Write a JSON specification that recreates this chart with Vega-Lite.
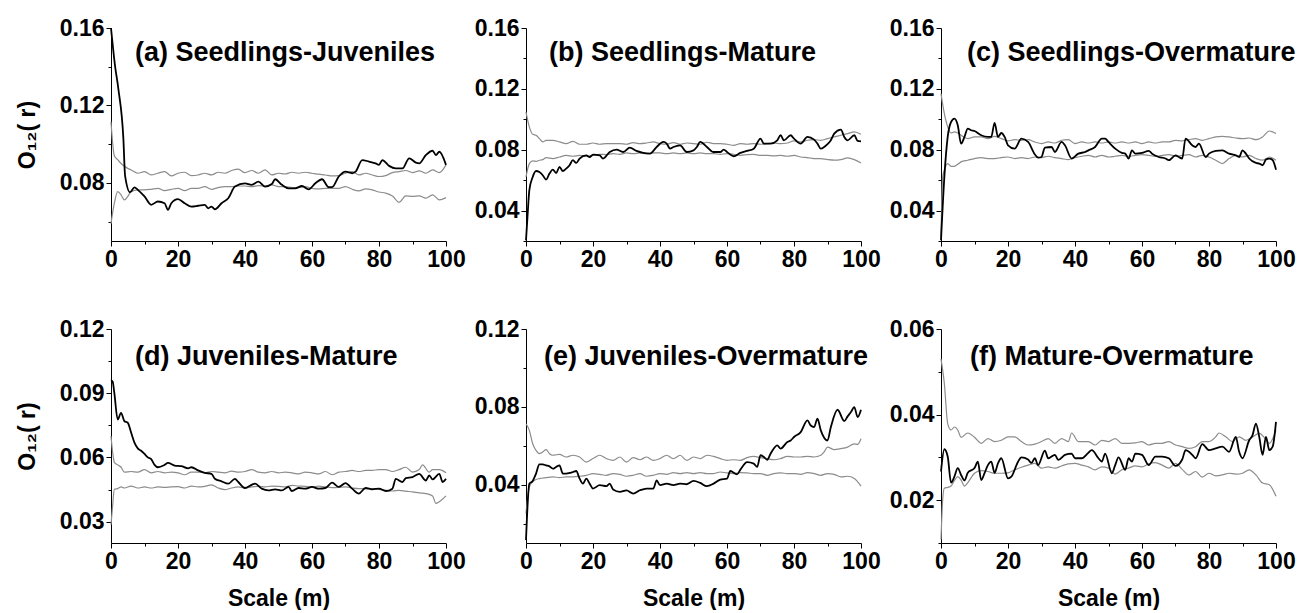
{
"$schema":"https://vega.github.io/schema/vega-lite/v6.json",
"background":"white",
"padding":{"left":16,"top":17,"right":0,"bottom":0},
"config":{"view":{"stroke":null},
"axis":{"labelFont":"Liberation Sans","labelFontWeight":"bold","labelFontSize":23,"labelColor":"black","domainColor":"black","domainWidth":1,"tickColor":"black","tickWidth":1,"grid":false,"titleFont":"Liberation Sans","titleFontWeight":"bold","titleFontSize":23,"titleColor":"black","labelPadding":2,"labelOverlap":false,"labelFlush":false},
"title":{"font":"Liberation Sans","fontWeight":"bold","fontSize":27,"color":"black"}},
"datasets":{"d":[
{"p":"a","s":"o","x":0,"y":0.16},{"p":"a","s":"o","x":1.2,"y":0.1405},{"p":"a","s":"o","x":2.2,"y":0.1285},{"p":"a","s":"o","x":3.7,"y":0.1027},{"p":"a","s":"o","x":4.2,"y":0.0838},{"p":"a","s":"o","x":5.7,"y":0.0752},{"p":"a","s":"o","x":7,"y":0.0777},{"p":"a","s":"o","x":8,"y":0.0764},{"p":"a","s":"o","x":10,"y":0.073},{"p":"a","s":"o","x":12,"y":0.0687},{"p":"a","s":"o","x":14,"y":0.0704},{"p":"a","s":"o","x":16,"y":0.0695},{"p":"a","s":"o","x":17,"y":0.0661},{"p":"a","s":"o","x":18,"y":0.0695},{"p":"a","s":"o","x":20,"y":0.0716},{"p":"a","s":"o","x":22,"y":0.0695},{"p":"a","s":"o","x":24,"y":0.0678},{"p":"a","s":"o","x":26,"y":0.0682},{"p":"a","s":"o","x":28,"y":0.0687},{"p":"a","s":"o","x":29,"y":0.0669},{"p":"a","s":"o","x":30,"y":0.0678},{"p":"a","s":"o","x":31,"y":0.0664},{"p":"a","s":"o","x":33,"y":0.0695},{"p":"a","s":"o","x":35,"y":0.0721},{"p":"a","s":"o","x":37,"y":0.0781},{"p":"a","s":"o","x":40,"y":0.0798},{"p":"a","s":"o","x":42,"y":0.079},{"p":"a","s":"o","x":44,"y":0.0807},{"p":"a","s":"o","x":46,"y":0.0781},{"p":"a","s":"o","x":48,"y":0.0794},{"p":"a","s":"o","x":49,"y":0.0819},{"p":"a","s":"o","x":51,"y":0.079},{"p":"a","s":"o","x":53,"y":0.0772},{"p":"a","s":"o","x":55,"y":0.0772},{"p":"a","s":"o","x":57,"y":0.0784},{"p":"a","s":"o","x":59,"y":0.0767},{"p":"a","s":"o","x":61,"y":0.0798},{"p":"a","s":"o","x":63,"y":0.0819},{"p":"a","s":"o","x":65,"y":0.0778},{"p":"a","s":"o","x":66,"y":0.0778},{"p":"a","s":"o","x":68,"y":0.0833},{"p":"a","s":"o","x":70,"y":0.0858},{"p":"a","s":"o","x":72,"y":0.085},{"p":"a","s":"o","x":73,"y":0.0858},{"p":"a","s":"o","x":75,"y":0.0918},{"p":"a","s":"o","x":77,"y":0.091},{"p":"a","s":"o","x":79,"y":0.0901},{"p":"a","s":"o","x":80,"y":0.0893},{"p":"a","s":"o","x":81,"y":0.0918},{"p":"a","s":"o","x":83,"y":0.0888},{"p":"a","s":"o","x":85,"y":0.0875},{"p":"a","s":"o","x":87,"y":0.0875},{"p":"a","s":"o","x":89,"y":0.0927},{"p":"a","s":"o","x":91,"y":0.0905},{"p":"a","s":"o","x":92,"y":0.0901},{"p":"a","s":"o","x":94,"y":0.0944},{"p":"a","s":"o","x":96,"y":0.0966},{"p":"a","s":"o","x":97,"y":0.0944},{"p":"a","s":"o","x":98,"y":0.0961},{"p":"a","s":"o","x":100,"y":0.0893},
{"p":"a","s":"u","x":0,"y":0.1115},{"p":"a","s":"u","x":1,"y":0.094},{"p":"a","s":"u","x":2,"y":0.092},{"p":"a","s":"u","x":3,"y":0.09},{"p":"a","s":"u","x":5,"y":0.0875},{"p":"a","s":"u","x":6,"y":0.0867},{"p":"a","s":"u","x":8,"y":0.085},{"p":"a","s":"u","x":10,"y":0.0858},{"p":"a","s":"u","x":12,"y":0.0841},{"p":"a","s":"u","x":14,"y":0.085},{"p":"a","s":"u","x":16,"y":0.0858},{"p":"a","s":"u","x":18,"y":0.0836},{"p":"a","s":"u","x":20,"y":0.085},{"p":"a","s":"u","x":22,"y":0.0855},{"p":"a","s":"u","x":24,"y":0.0838},{"p":"a","s":"u","x":26,"y":0.0841},{"p":"a","s":"u","x":28,"y":0.085},{"p":"a","s":"u","x":30,"y":0.0841},{"p":"a","s":"u","x":32,"y":0.0855},{"p":"a","s":"u","x":34,"y":0.085},{"p":"a","s":"u","x":36,"y":0.0864},{"p":"a","s":"u","x":38,"y":0.0871},{"p":"a","s":"u","x":40,"y":0.0853},{"p":"a","s":"u","x":42,"y":0.0864},{"p":"a","s":"u","x":44,"y":0.085},{"p":"a","s":"u","x":46,"y":0.0867},{"p":"a","s":"u","x":48,"y":0.0841},{"p":"a","s":"u","x":50,"y":0.085},{"p":"a","s":"u","x":52,"y":0.0846},{"p":"a","s":"u","x":54,"y":0.0855},{"p":"a","s":"u","x":56,"y":0.085},{"p":"a","s":"u","x":58,"y":0.0855},{"p":"a","s":"u","x":60,"y":0.085},{"p":"a","s":"u","x":62,"y":0.0845},{"p":"a","s":"u","x":64,"y":0.0841},{"p":"a","s":"u","x":66,"y":0.0836},{"p":"a","s":"u","x":68,"y":0.0838},{"p":"a","s":"u","x":70,"y":0.085},{"p":"a","s":"u","x":72,"y":0.0858},{"p":"a","s":"u","x":74,"y":0.0841},{"p":"a","s":"u","x":76,"y":0.085},{"p":"a","s":"u","x":78,"y":0.0841},{"p":"a","s":"u","x":80,"y":0.0833},{"p":"a","s":"u","x":82,"y":0.0838},{"p":"a","s":"u","x":84,"y":0.0853},{"p":"a","s":"u","x":86,"y":0.0858},{"p":"a","s":"u","x":88,"y":0.0864},{"p":"a","s":"u","x":90,"y":0.0853},{"p":"a","s":"u","x":92,"y":0.0862},{"p":"a","s":"u","x":94,"y":0.085},{"p":"a","s":"u","x":96,"y":0.0867},{"p":"a","s":"u","x":98,"y":0.0853},{"p":"a","s":"u","x":100,"y":0.0893},
{"p":"a","s":"l","x":0,"y":0.059},{"p":"a","s":"l","x":1,"y":0.0695},{"p":"a","s":"l","x":2,"y":0.0755},{"p":"a","s":"l","x":3,"y":0.0738},{"p":"a","s":"l","x":4,"y":0.0712},{"p":"a","s":"l","x":5,"y":0.073},{"p":"a","s":"l","x":6,"y":0.0755},{"p":"a","s":"l","x":8,"y":0.0764},{"p":"a","s":"l","x":10,"y":0.0764},{"p":"a","s":"l","x":12,"y":0.0767},{"p":"a","s":"l","x":14,"y":0.0772},{"p":"a","s":"l","x":16,"y":0.076},{"p":"a","s":"l","x":18,"y":0.0767},{"p":"a","s":"l","x":20,"y":0.0772},{"p":"a","s":"l","x":22,"y":0.076},{"p":"a","s":"l","x":24,"y":0.0772},{"p":"a","s":"l","x":26,"y":0.0772},{"p":"a","s":"l","x":28,"y":0.0781},{"p":"a","s":"l","x":30,"y":0.0767},{"p":"a","s":"l","x":32,"y":0.0776},{"p":"a","s":"l","x":34,"y":0.0781},{"p":"a","s":"l","x":36,"y":0.0781},{"p":"a","s":"l","x":38,"y":0.0784},{"p":"a","s":"l","x":40,"y":0.0784},{"p":"a","s":"l","x":42,"y":0.0781},{"p":"a","s":"l","x":44,"y":0.0786},{"p":"a","s":"l","x":46,"y":0.0784},{"p":"a","s":"l","x":48,"y":0.079},{"p":"a","s":"l","x":50,"y":0.0781},{"p":"a","s":"l","x":52,"y":0.0781},{"p":"a","s":"l","x":54,"y":0.0776},{"p":"a","s":"l","x":56,"y":0.0776},{"p":"a","s":"l","x":58,"y":0.0781},{"p":"a","s":"l","x":60,"y":0.0772},{"p":"a","s":"l","x":62,"y":0.0769},{"p":"a","s":"l","x":64,"y":0.0772},{"p":"a","s":"l","x":66,"y":0.0772},{"p":"a","s":"l","x":68,"y":0.0772},{"p":"a","s":"l","x":70,"y":0.0781},{"p":"a","s":"l","x":72,"y":0.0767},{"p":"a","s":"l","x":74,"y":0.0759},{"p":"a","s":"l","x":76,"y":0.0769},{"p":"a","s":"l","x":78,"y":0.0764},{"p":"a","s":"l","x":80,"y":0.0753},{"p":"a","s":"l","x":82,"y":0.0747},{"p":"a","s":"l","x":84,"y":0.0733},{"p":"a","s":"l","x":86,"y":0.07},{"p":"a","s":"l","x":88,"y":0.0733},{"p":"a","s":"l","x":90,"y":0.073},{"p":"a","s":"l","x":92,"y":0.0733},{"p":"a","s":"l","x":94,"y":0.0721},{"p":"a","s":"l","x":96,"y":0.0738},{"p":"a","s":"l","x":98,"y":0.0712},{"p":"a","s":"l","x":100,"y":0.0724},
{"p":"b","s":"o","x":0,"y":0.0205},{"p":"b","s":"o","x":0.5,"y":0.038},{"p":"b","s":"o","x":1,"y":0.0534},{"p":"b","s":"o","x":2,"y":0.0621},{"p":"b","s":"o","x":3,"y":0.066},{"p":"b","s":"o","x":4,"y":0.0654},{"p":"b","s":"o","x":5,"y":0.0632},{"p":"b","s":"o","x":6,"y":0.0604},{"p":"b","s":"o","x":7,"y":0.0643},{"p":"b","s":"o","x":8,"y":0.0669},{"p":"b","s":"o","x":9,"y":0.0647},{"p":"b","s":"o","x":10,"y":0.0687},{"p":"b","s":"o","x":11,"y":0.066},{"p":"b","s":"o","x":12,"y":0.0676},{"p":"b","s":"o","x":13,"y":0.0698},{"p":"b","s":"o","x":14,"y":0.0731},{"p":"b","s":"o","x":15,"y":0.0713},{"p":"b","s":"o","x":16,"y":0.0742},{"p":"b","s":"o","x":18,"y":0.0763},{"p":"b","s":"o","x":19,"y":0.0752},{"p":"b","s":"o","x":20,"y":0.0768},{"p":"b","s":"o","x":22,"y":0.0763},{"p":"b","s":"o","x":23,"y":0.0742},{"p":"b","s":"o","x":25,"y":0.0785},{"p":"b","s":"o","x":27,"y":0.0801},{"p":"b","s":"o","x":29,"y":0.0785},{"p":"b","s":"o","x":31,"y":0.0814},{"p":"b","s":"o","x":33,"y":0.0792},{"p":"b","s":"o","x":35,"y":0.0779},{"p":"b","s":"o","x":37,"y":0.0774},{"p":"b","s":"o","x":39,"y":0.0818},{"p":"b","s":"o","x":41,"y":0.0851},{"p":"b","s":"o","x":42,"y":0.084},{"p":"b","s":"o","x":43,"y":0.0807},{"p":"b","s":"o","x":44,"y":0.0818},{"p":"b","s":"o","x":46,"y":0.0829},{"p":"b","s":"o","x":48,"y":0.0785},{"p":"b","s":"o","x":50,"y":0.0796},{"p":"b","s":"o","x":51,"y":0.0818},{"p":"b","s":"o","x":52,"y":0.0851},{"p":"b","s":"o","x":54,"y":0.0818},{"p":"b","s":"o","x":56,"y":0.0785},{"p":"b","s":"o","x":58,"y":0.0785},{"p":"b","s":"o","x":59,"y":0.0801},{"p":"b","s":"o","x":60,"y":0.0785},{"p":"b","s":"o","x":62,"y":0.0757},{"p":"b","s":"o","x":64,"y":0.0779},{"p":"b","s":"o","x":66,"y":0.0792},{"p":"b","s":"o","x":68,"y":0.0807},{"p":"b","s":"o","x":70,"y":0.0873},{"p":"b","s":"o","x":71,"y":0.084},{"p":"b","s":"o","x":73,"y":0.084},{"p":"b","s":"o","x":75,"y":0.0862},{"p":"b","s":"o","x":76,"y":0.0895},{"p":"b","s":"o","x":77,"y":0.0862},{"p":"b","s":"o","x":79,"y":0.0895},{"p":"b","s":"o","x":80,"y":0.0873},{"p":"b","s":"o","x":82,"y":0.084},{"p":"b","s":"o","x":84,"y":0.0884},{"p":"b","s":"o","x":86,"y":0.0866},{"p":"b","s":"o","x":87,"y":0.084},{"p":"b","s":"o","x":88,"y":0.0807},{"p":"b","s":"o","x":90,"y":0.0836},{"p":"b","s":"o","x":91,"y":0.0862},{"p":"b","s":"o","x":92,"y":0.0906},{"p":"b","s":"o","x":94,"y":0.0932},{"p":"b","s":"o","x":95,"y":0.0884},{"p":"b","s":"o","x":96,"y":0.0862},{"p":"b","s":"o","x":98,"y":0.0895},{"p":"b","s":"o","x":99,"y":0.0858},{"p":"b","s":"o","x":100,"y":0.0855},
{"p":"b","s":"u","x":0,"y":0.1048},{"p":"b","s":"u","x":1,"y":0.095},{"p":"b","s":"u","x":2,"y":0.0901},{"p":"b","s":"u","x":3,"y":0.0895},{"p":"b","s":"u","x":4,"y":0.0873},{"p":"b","s":"u","x":5,"y":0.0851},{"p":"b","s":"u","x":6,"y":0.0862},{"p":"b","s":"u","x":8,"y":0.0862},{"p":"b","s":"u","x":10,"y":0.0851},{"p":"b","s":"u","x":12,"y":0.084},{"p":"b","s":"u","x":14,"y":0.0855},{"p":"b","s":"u","x":16,"y":0.0836},{"p":"b","s":"u","x":18,"y":0.0836},{"p":"b","s":"u","x":20,"y":0.0844},{"p":"b","s":"u","x":22,"y":0.0836},{"p":"b","s":"u","x":24,"y":0.084},{"p":"b","s":"u","x":26,"y":0.084},{"p":"b","s":"u","x":28,"y":0.084},{"p":"b","s":"u","x":30,"y":0.0836},{"p":"b","s":"u","x":32,"y":0.0847},{"p":"b","s":"u","x":34,"y":0.084},{"p":"b","s":"u","x":36,"y":0.0844},{"p":"b","s":"u","x":38,"y":0.0851},{"p":"b","s":"u","x":40,"y":0.084},{"p":"b","s":"u","x":42,"y":0.0836},{"p":"b","s":"u","x":44,"y":0.0847},{"p":"b","s":"u","x":46,"y":0.0836},{"p":"b","s":"u","x":48,"y":0.0844},{"p":"b","s":"u","x":50,"y":0.084},{"p":"b","s":"u","x":52,"y":0.0836},{"p":"b","s":"u","x":54,"y":0.0849},{"p":"b","s":"u","x":56,"y":0.084},{"p":"b","s":"u","x":58,"y":0.084},{"p":"b","s":"u","x":60,"y":0.0836},{"p":"b","s":"u","x":62,"y":0.0829},{"p":"b","s":"u","x":64,"y":0.084},{"p":"b","s":"u","x":66,"y":0.0836},{"p":"b","s":"u","x":68,"y":0.084},{"p":"b","s":"u","x":70,"y":0.0836},{"p":"b","s":"u","x":72,"y":0.084},{"p":"b","s":"u","x":74,"y":0.0844},{"p":"b","s":"u","x":76,"y":0.084},{"p":"b","s":"u","x":78,"y":0.0844},{"p":"b","s":"u","x":80,"y":0.0858},{"p":"b","s":"u","x":82,"y":0.0851},{"p":"b","s":"u","x":84,"y":0.0862},{"p":"b","s":"u","x":86,"y":0.0866},{"p":"b","s":"u","x":88,"y":0.0862},{"p":"b","s":"u","x":90,"y":0.0873},{"p":"b","s":"u","x":92,"y":0.0884},{"p":"b","s":"u","x":94,"y":0.0895},{"p":"b","s":"u","x":96,"y":0.0906},{"p":"b","s":"u","x":98,"y":0.0917},{"p":"b","s":"u","x":100,"y":0.0901},
{"p":"b","s":"l","x":0,"y":0.0621},{"p":"b","s":"l","x":1,"y":0.0709},{"p":"b","s":"l","x":2,"y":0.0726},{"p":"b","s":"l","x":3,"y":0.0724},{"p":"b","s":"l","x":4,"y":0.0731},{"p":"b","s":"l","x":5,"y":0.0735},{"p":"b","s":"l","x":6,"y":0.0748},{"p":"b","s":"l","x":8,"y":0.0742},{"p":"b","s":"l","x":10,"y":0.0752},{"p":"b","s":"l","x":12,"y":0.0763},{"p":"b","s":"l","x":14,"y":0.0757},{"p":"b","s":"l","x":16,"y":0.0763},{"p":"b","s":"l","x":18,"y":0.0757},{"p":"b","s":"l","x":20,"y":0.0763},{"p":"b","s":"l","x":22,"y":0.077},{"p":"b","s":"l","x":24,"y":0.0768},{"p":"b","s":"l","x":26,"y":0.0774},{"p":"b","s":"l","x":28,"y":0.077},{"p":"b","s":"l","x":30,"y":0.0779},{"p":"b","s":"l","x":32,"y":0.0774},{"p":"b","s":"l","x":34,"y":0.0779},{"p":"b","s":"l","x":36,"y":0.0774},{"p":"b","s":"l","x":38,"y":0.0779},{"p":"b","s":"l","x":40,"y":0.0779},{"p":"b","s":"l","x":42,"y":0.0774},{"p":"b","s":"l","x":44,"y":0.0779},{"p":"b","s":"l","x":46,"y":0.0774},{"p":"b","s":"l","x":48,"y":0.0779},{"p":"b","s":"l","x":50,"y":0.0774},{"p":"b","s":"l","x":52,"y":0.0779},{"p":"b","s":"l","x":54,"y":0.0774},{"p":"b","s":"l","x":56,"y":0.0774},{"p":"b","s":"l","x":58,"y":0.077},{"p":"b","s":"l","x":60,"y":0.0774},{"p":"b","s":"l","x":62,"y":0.077},{"p":"b","s":"l","x":64,"y":0.0763},{"p":"b","s":"l","x":66,"y":0.0768},{"p":"b","s":"l","x":68,"y":0.077},{"p":"b","s":"l","x":70,"y":0.0763},{"p":"b","s":"l","x":72,"y":0.0763},{"p":"b","s":"l","x":74,"y":0.0759},{"p":"b","s":"l","x":76,"y":0.0763},{"p":"b","s":"l","x":78,"y":0.0757},{"p":"b","s":"l","x":80,"y":0.0763},{"p":"b","s":"l","x":82,"y":0.0752},{"p":"b","s":"l","x":84,"y":0.0748},{"p":"b","s":"l","x":86,"y":0.0742},{"p":"b","s":"l","x":88,"y":0.0742},{"p":"b","s":"l","x":90,"y":0.0735},{"p":"b","s":"l","x":92,"y":0.0731},{"p":"b","s":"l","x":94,"y":0.0735},{"p":"b","s":"l","x":96,"y":0.0746},{"p":"b","s":"l","x":98,"y":0.0735},{"p":"b","s":"l","x":100,"y":0.0713},
{"p":"c","s":"o","x":0,"y":0.0205},{"p":"c","s":"o","x":1,"y":0.0621},{"p":"c","s":"o","x":2,"y":0.0884},{"p":"c","s":"o","x":3,"y":0.0982},{"p":"c","s":"o","x":4,"y":0.1004},{"p":"c","s":"o","x":5,"y":0.0961},{"p":"c","s":"o","x":6,"y":0.084},{"p":"c","s":"o","x":7,"y":0.0884},{"p":"c","s":"o","x":8,"y":0.0939},{"p":"c","s":"o","x":9,"y":0.0928},{"p":"c","s":"o","x":10,"y":0.0923},{"p":"c","s":"o","x":12,"y":0.0895},{"p":"c","s":"o","x":14,"y":0.0884},{"p":"c","s":"o","x":15,"y":0.0884},{"p":"c","s":"o","x":16,"y":0.0976},{"p":"c","s":"o","x":17,"y":0.0884},{"p":"c","s":"o","x":18,"y":0.091},{"p":"c","s":"o","x":19,"y":0.0884},{"p":"c","s":"o","x":20,"y":0.0829},{"p":"c","s":"o","x":22,"y":0.0807},{"p":"c","s":"o","x":24,"y":0.0873},{"p":"c","s":"o","x":26,"y":0.0851},{"p":"c","s":"o","x":28,"y":0.077},{"p":"c","s":"o","x":29,"y":0.0748},{"p":"c","s":"o","x":30,"y":0.0752},{"p":"c","s":"o","x":31,"y":0.0814},{"p":"c","s":"o","x":33,"y":0.0818},{"p":"c","s":"o","x":34,"y":0.0785},{"p":"c","s":"o","x":36,"y":0.0851},{"p":"c","s":"o","x":37,"y":0.0829},{"p":"c","s":"o","x":39,"y":0.0742},{"p":"c","s":"o","x":41,"y":0.0774},{"p":"c","s":"o","x":43,"y":0.0785},{"p":"c","s":"o","x":44,"y":0.0796},{"p":"c","s":"o","x":46,"y":0.0818},{"p":"c","s":"o","x":48,"y":0.0873},{"p":"c","s":"o","x":49,"y":0.0873},{"p":"c","s":"o","x":50,"y":0.0851},{"p":"c","s":"o","x":52,"y":0.0807},{"p":"c","s":"o","x":54,"y":0.0779},{"p":"c","s":"o","x":55,"y":0.0774},{"p":"c","s":"o","x":56,"y":0.0742},{"p":"c","s":"o","x":57,"y":0.0796},{"p":"c","s":"o","x":58,"y":0.0774},{"p":"c","s":"o","x":60,"y":0.0779},{"p":"c","s":"o","x":62,"y":0.0792},{"p":"c","s":"o","x":63,"y":0.0774},{"p":"c","s":"o","x":65,"y":0.0752},{"p":"c","s":"o","x":67,"y":0.0742},{"p":"c","s":"o","x":68,"y":0.0731},{"p":"c","s":"o","x":70,"y":0.0763},{"p":"c","s":"o","x":71,"y":0.0752},{"p":"c","s":"o","x":72,"y":0.0742},{"p":"c","s":"o","x":73,"y":0.0873},{"p":"c","s":"o","x":75,"y":0.0829},{"p":"c","s":"o","x":76,"y":0.0818},{"p":"c","s":"o","x":77,"y":0.084},{"p":"c","s":"o","x":79,"y":0.0752},{"p":"c","s":"o","x":80,"y":0.0774},{"p":"c","s":"o","x":82,"y":0.0792},{"p":"c","s":"o","x":84,"y":0.0796},{"p":"c","s":"o","x":86,"y":0.0774},{"p":"c","s":"o","x":88,"y":0.0763},{"p":"c","s":"o","x":89,"y":0.0752},{"p":"c","s":"o","x":90,"y":0.0796},{"p":"c","s":"o","x":91,"y":0.0774},{"p":"c","s":"o","x":92,"y":0.0742},{"p":"c","s":"o","x":94,"y":0.0713},{"p":"c","s":"o","x":95,"y":0.0709},{"p":"c","s":"o","x":96,"y":0.0698},{"p":"c","s":"o","x":97,"y":0.0735},{"p":"c","s":"o","x":98,"y":0.0742},{"p":"c","s":"o","x":99,"y":0.0731},{"p":"c","s":"o","x":100,"y":0.0669},
{"p":"c","s":"u","x":0,"y":0.1169},{"p":"c","s":"u","x":1,"y":0.1037},{"p":"c","s":"u","x":2,"y":0.095},{"p":"c","s":"u","x":3,"y":0.091},{"p":"c","s":"u","x":4,"y":0.0917},{"p":"c","s":"u","x":5,"y":0.091},{"p":"c","s":"u","x":6,"y":0.0895},{"p":"c","s":"u","x":8,"y":0.0873},{"p":"c","s":"u","x":10,"y":0.0884},{"p":"c","s":"u","x":12,"y":0.0884},{"p":"c","s":"u","x":14,"y":0.0873},{"p":"c","s":"u","x":16,"y":0.0888},{"p":"c","s":"u","x":18,"y":0.0873},{"p":"c","s":"u","x":20,"y":0.0858},{"p":"c","s":"u","x":22,"y":0.0866},{"p":"c","s":"u","x":24,"y":0.0862},{"p":"c","s":"u","x":26,"y":0.0866},{"p":"c","s":"u","x":28,"y":0.0851},{"p":"c","s":"u","x":30,"y":0.084},{"p":"c","s":"u","x":32,"y":0.0851},{"p":"c","s":"u","x":34,"y":0.0844},{"p":"c","s":"u","x":36,"y":0.0862},{"p":"c","s":"u","x":38,"y":0.0866},{"p":"c","s":"u","x":40,"y":0.084},{"p":"c","s":"u","x":42,"y":0.0851},{"p":"c","s":"u","x":44,"y":0.0844},{"p":"c","s":"u","x":46,"y":0.0851},{"p":"c","s":"u","x":48,"y":0.0844},{"p":"c","s":"u","x":50,"y":0.0851},{"p":"c","s":"u","x":52,"y":0.0844},{"p":"c","s":"u","x":54,"y":0.0851},{"p":"c","s":"u","x":56,"y":0.0844},{"p":"c","s":"u","x":58,"y":0.0851},{"p":"c","s":"u","x":60,"y":0.084},{"p":"c","s":"u","x":62,"y":0.0851},{"p":"c","s":"u","x":64,"y":0.0844},{"p":"c","s":"u","x":66,"y":0.0851},{"p":"c","s":"u","x":68,"y":0.0851},{"p":"c","s":"u","x":70,"y":0.0862},{"p":"c","s":"u","x":72,"y":0.0858},{"p":"c","s":"u","x":74,"y":0.0866},{"p":"c","s":"u","x":76,"y":0.0873},{"p":"c","s":"u","x":78,"y":0.0862},{"p":"c","s":"u","x":80,"y":0.0873},{"p":"c","s":"u","x":82,"y":0.0884},{"p":"c","s":"u","x":84,"y":0.0888},{"p":"c","s":"u","x":86,"y":0.0884},{"p":"c","s":"u","x":88,"y":0.0877},{"p":"c","s":"u","x":90,"y":0.0873},{"p":"c","s":"u","x":92,"y":0.0877},{"p":"c","s":"u","x":94,"y":0.0866},{"p":"c","s":"u","x":96,"y":0.0884},{"p":"c","s":"u","x":98,"y":0.0923},{"p":"c","s":"u","x":100,"y":0.0906},
{"p":"c","s":"l","x":0,"y":0.0227},{"p":"c","s":"l","x":0.5,"y":0.0621},{"p":"c","s":"l","x":1,"y":0.0665},{"p":"c","s":"l","x":2,"y":0.0709},{"p":"c","s":"l","x":3,"y":0.0691},{"p":"c","s":"l","x":4,"y":0.0691},{"p":"c","s":"l","x":5,"y":0.0704},{"p":"c","s":"l","x":6,"y":0.072},{"p":"c","s":"l","x":8,"y":0.0731},{"p":"c","s":"l","x":10,"y":0.0742},{"p":"c","s":"l","x":12,"y":0.0748},{"p":"c","s":"l","x":14,"y":0.0742},{"p":"c","s":"l","x":16,"y":0.0742},{"p":"c","s":"l","x":18,"y":0.0748},{"p":"c","s":"l","x":20,"y":0.0752},{"p":"c","s":"l","x":22,"y":0.0742},{"p":"c","s":"l","x":24,"y":0.0748},{"p":"c","s":"l","x":26,"y":0.0742},{"p":"c","s":"l","x":28,"y":0.0752},{"p":"c","s":"l","x":30,"y":0.0748},{"p":"c","s":"l","x":32,"y":0.0757},{"p":"c","s":"l","x":34,"y":0.0748},{"p":"c","s":"l","x":36,"y":0.0742},{"p":"c","s":"l","x":38,"y":0.0735},{"p":"c","s":"l","x":40,"y":0.0748},{"p":"c","s":"l","x":42,"y":0.0757},{"p":"c","s":"l","x":44,"y":0.0763},{"p":"c","s":"l","x":46,"y":0.0752},{"p":"c","s":"l","x":48,"y":0.0763},{"p":"c","s":"l","x":50,"y":0.0752},{"p":"c","s":"l","x":52,"y":0.0757},{"p":"c","s":"l","x":54,"y":0.0763},{"p":"c","s":"l","x":56,"y":0.0757},{"p":"c","s":"l","x":58,"y":0.0763},{"p":"c","s":"l","x":60,"y":0.0768},{"p":"c","s":"l","x":62,"y":0.0763},{"p":"c","s":"l","x":64,"y":0.0757},{"p":"c","s":"l","x":66,"y":0.0763},{"p":"c","s":"l","x":68,"y":0.0768},{"p":"c","s":"l","x":70,"y":0.0757},{"p":"c","s":"l","x":72,"y":0.0763},{"p":"c","s":"l","x":74,"y":0.0768},{"p":"c","s":"l","x":76,"y":0.0752},{"p":"c","s":"l","x":78,"y":0.0763},{"p":"c","s":"l","x":80,"y":0.0752},{"p":"c","s":"l","x":82,"y":0.0731},{"p":"c","s":"l","x":84,"y":0.0709},{"p":"c","s":"l","x":86,"y":0.0742},{"p":"c","s":"l","x":88,"y":0.0763},{"p":"c","s":"l","x":90,"y":0.0752},{"p":"c","s":"l","x":92,"y":0.0763},{"p":"c","s":"l","x":94,"y":0.0742},{"p":"c","s":"l","x":96,"y":0.0731},{"p":"c","s":"l","x":98,"y":0.0752},{"p":"c","s":"l","x":100,"y":0.0731},
{"p":"d","s":"o","x":0,"y":0.0962},{"p":"d","s":"o","x":0.5,"y":0.0954},{"p":"d","s":"o","x":1,"y":0.09},{"p":"d","s":"o","x":2,"y":0.0777},{"p":"d","s":"o","x":3,"y":0.0808},{"p":"d","s":"o","x":4,"y":0.0769},{"p":"d","s":"o","x":5,"y":0.0762},{"p":"d","s":"o","x":6,"y":0.0716},{"p":"d","s":"o","x":7,"y":0.0669},{"p":"d","s":"o","x":8,"y":0.0642},{"p":"d","s":"o","x":9,"y":0.0631},{"p":"d","s":"o","x":10,"y":0.0616},{"p":"d","s":"o","x":11,"y":0.06},{"p":"d","s":"o","x":12,"y":0.0592},{"p":"d","s":"o","x":13,"y":0.0565},{"p":"d","s":"o","x":14,"y":0.0554},{"p":"d","s":"o","x":16,"y":0.0565},{"p":"d","s":"o","x":17,"y":0.0574},{"p":"d","s":"o","x":19,"y":0.0562},{"p":"d","s":"o","x":21,"y":0.0559},{"p":"d","s":"o","x":23,"y":0.0549},{"p":"d","s":"o","x":24,"y":0.0554},{"p":"d","s":"o","x":26,"y":0.0539},{"p":"d","s":"o","x":28,"y":0.0528},{"p":"d","s":"o","x":30,"y":0.0523},{"p":"d","s":"o","x":31,"y":0.05},{"p":"d","s":"o","x":33,"y":0.0488},{"p":"d","s":"o","x":35,"y":0.0477},{"p":"d","s":"o","x":37,"y":0.05},{"p":"d","s":"o","x":38,"y":0.0485},{"p":"d","s":"o","x":40,"y":0.0457},{"p":"d","s":"o","x":42,"y":0.0472},{"p":"d","s":"o","x":43,"y":0.0477},{"p":"d","s":"o","x":45,"y":0.0454},{"p":"d","s":"o","x":47,"y":0.0446},{"p":"d","s":"o","x":49,"y":0.0451},{"p":"d","s":"o","x":51,"y":0.0446},{"p":"d","s":"o","x":53,"y":0.0462},{"p":"d","s":"o","x":54,"y":0.0443},{"p":"d","s":"o","x":56,"y":0.0457},{"p":"d","s":"o","x":58,"y":0.0454},{"p":"d","s":"o","x":60,"y":0.0462},{"p":"d","s":"o","x":62,"y":0.0454},{"p":"d","s":"o","x":64,"y":0.0457},{"p":"d","s":"o","x":66,"y":0.0482},{"p":"d","s":"o","x":68,"y":0.0462},{"p":"d","s":"o","x":70,"y":0.048},{"p":"d","s":"o","x":72,"y":0.0454},{"p":"d","s":"o","x":74,"y":0.0431},{"p":"d","s":"o","x":76,"y":0.0457},{"p":"d","s":"o","x":78,"y":0.0451},{"p":"d","s":"o","x":80,"y":0.0454},{"p":"d","s":"o","x":82,"y":0.0443},{"p":"d","s":"o","x":84,"y":0.0454},{"p":"d","s":"o","x":85,"y":0.05},{"p":"d","s":"o","x":87,"y":0.0485},{"p":"d","s":"o","x":88,"y":0.0503},{"p":"d","s":"o","x":90,"y":0.0508},{"p":"d","s":"o","x":92,"y":0.0523},{"p":"d","s":"o","x":94,"y":0.0492},{"p":"d","s":"o","x":95,"y":0.0516},{"p":"d","s":"o","x":96,"y":0.0497},{"p":"d","s":"o","x":98,"y":0.0523},{"p":"d","s":"o","x":99,"y":0.0485},{"p":"d","s":"o","x":100,"y":0.05},
{"p":"d","s":"u","x":0,"y":0.07},{"p":"d","s":"u","x":0.5,"y":0.0623},{"p":"d","s":"u","x":1,"y":0.0577},{"p":"d","s":"u","x":2,"y":0.0565},{"p":"d","s":"u","x":3,"y":0.0554},{"p":"d","s":"u","x":4,"y":0.0531},{"p":"d","s":"u","x":6,"y":0.0534},{"p":"d","s":"u","x":8,"y":0.0531},{"p":"d","s":"u","x":10,"y":0.0543},{"p":"d","s":"u","x":12,"y":0.0528},{"p":"d","s":"u","x":14,"y":0.0534},{"p":"d","s":"u","x":16,"y":0.0528},{"p":"d","s":"u","x":18,"y":0.0531},{"p":"d","s":"u","x":20,"y":0.0528},{"p":"d","s":"u","x":22,"y":0.0519},{"p":"d","s":"u","x":24,"y":0.0531},{"p":"d","s":"u","x":26,"y":0.0531},{"p":"d","s":"u","x":28,"y":0.0528},{"p":"d","s":"u","x":30,"y":0.0534},{"p":"d","s":"u","x":32,"y":0.0531},{"p":"d","s":"u","x":34,"y":0.0528},{"p":"d","s":"u","x":36,"y":0.0536},{"p":"d","s":"u","x":38,"y":0.0531},{"p":"d","s":"u","x":40,"y":0.0534},{"p":"d","s":"u","x":42,"y":0.0543},{"p":"d","s":"u","x":44,"y":0.0531},{"p":"d","s":"u","x":46,"y":0.0528},{"p":"d","s":"u","x":48,"y":0.0534},{"p":"d","s":"u","x":50,"y":0.0528},{"p":"d","s":"u","x":52,"y":0.0531},{"p":"d","s":"u","x":54,"y":0.0528},{"p":"d","s":"u","x":56,"y":0.0523},{"p":"d","s":"u","x":58,"y":0.0531},{"p":"d","s":"u","x":60,"y":0.0528},{"p":"d","s":"u","x":62,"y":0.0523},{"p":"d","s":"u","x":64,"y":0.0534},{"p":"d","s":"u","x":66,"y":0.0519},{"p":"d","s":"u","x":68,"y":0.0531},{"p":"d","s":"u","x":70,"y":0.0534},{"p":"d","s":"u","x":72,"y":0.0539},{"p":"d","s":"u","x":74,"y":0.0534},{"p":"d","s":"u","x":76,"y":0.0539},{"p":"d","s":"u","x":78,"y":0.0539},{"p":"d","s":"u","x":80,"y":0.0543},{"p":"d","s":"u","x":82,"y":0.0543},{"p":"d","s":"u","x":84,"y":0.0534},{"p":"d","s":"u","x":86,"y":0.0543},{"p":"d","s":"u","x":88,"y":0.0554},{"p":"d","s":"u","x":90,"y":0.0531},{"p":"d","s":"u","x":92,"y":0.0543},{"p":"d","s":"u","x":93,"y":0.0565},{"p":"d","s":"u","x":95,"y":0.0531},{"p":"d","s":"u","x":96,"y":0.0543},{"p":"d","s":"u","x":98,"y":0.0543},{"p":"d","s":"u","x":100,"y":0.0528},
{"p":"d","s":"l","x":0,"y":0.0285},{"p":"d","s":"l","x":0.5,"y":0.0377},{"p":"d","s":"l","x":1,"y":0.0451},{"p":"d","s":"l","x":2,"y":0.0454},{"p":"d","s":"l","x":3,"y":0.0462},{"p":"d","s":"l","x":4,"y":0.0457},{"p":"d","s":"l","x":6,"y":0.0466},{"p":"d","s":"l","x":8,"y":0.0457},{"p":"d","s":"l","x":10,"y":0.0462},{"p":"d","s":"l","x":12,"y":0.0457},{"p":"d","s":"l","x":14,"y":0.0462},{"p":"d","s":"l","x":16,"y":0.046},{"p":"d","s":"l","x":18,"y":0.0462},{"p":"d","s":"l","x":20,"y":0.0463},{"p":"d","s":"l","x":22,"y":0.0457},{"p":"d","s":"l","x":24,"y":0.0466},{"p":"d","s":"l","x":26,"y":0.0462},{"p":"d","s":"l","x":28,"y":0.0465},{"p":"d","s":"l","x":30,"y":0.0472},{"p":"d","s":"l","x":32,"y":0.0457},{"p":"d","s":"l","x":34,"y":0.0449},{"p":"d","s":"l","x":36,"y":0.0457},{"p":"d","s":"l","x":38,"y":0.0462},{"p":"d","s":"l","x":40,"y":0.0457},{"p":"d","s":"l","x":42,"y":0.0462},{"p":"d","s":"l","x":44,"y":0.0465},{"p":"d","s":"l","x":46,"y":0.0462},{"p":"d","s":"l","x":48,"y":0.0466},{"p":"d","s":"l","x":50,"y":0.0465},{"p":"d","s":"l","x":52,"y":0.0462},{"p":"d","s":"l","x":54,"y":0.0469},{"p":"d","s":"l","x":56,"y":0.0466},{"p":"d","s":"l","x":58,"y":0.0465},{"p":"d","s":"l","x":60,"y":0.0462},{"p":"d","s":"l","x":62,"y":0.0466},{"p":"d","s":"l","x":64,"y":0.0462},{"p":"d","s":"l","x":66,"y":0.0459},{"p":"d","s":"l","x":68,"y":0.046},{"p":"d","s":"l","x":70,"y":0.0462},{"p":"d","s":"l","x":72,"y":0.0457},{"p":"d","s":"l","x":74,"y":0.0454},{"p":"d","s":"l","x":76,"y":0.0454},{"p":"d","s":"l","x":78,"y":0.0454},{"p":"d","s":"l","x":80,"y":0.0451},{"p":"d","s":"l","x":82,"y":0.0446},{"p":"d","s":"l","x":84,"y":0.0443},{"p":"d","s":"l","x":86,"y":0.0446},{"p":"d","s":"l","x":88,"y":0.0442},{"p":"d","s":"l","x":90,"y":0.0439},{"p":"d","s":"l","x":92,"y":0.0434},{"p":"d","s":"l","x":94,"y":0.0431},{"p":"d","s":"l","x":96,"y":0.042},{"p":"d","s":"l","x":97,"y":0.0385},{"p":"d","s":"l","x":98,"y":0.0393},{"p":"d","s":"l","x":100,"y":0.042},
{"p":"e","s":"o","x":0,"y":0.0115},{"p":"e","s":"o","x":1,"y":0.0405},{"p":"e","s":"o","x":2,"y":0.0419},{"p":"e","s":"o","x":3,"y":0.0457},{"p":"e","s":"o","x":4,"y":0.0504},{"p":"e","s":"o","x":5,"y":0.0504},{"p":"e","s":"o","x":6,"y":0.0499},{"p":"e","s":"o","x":7,"y":0.0494},{"p":"e","s":"o","x":8,"y":0.0482},{"p":"e","s":"o","x":9,"y":0.0491},{"p":"e","s":"o","x":10,"y":0.0499},{"p":"e","s":"o","x":11,"y":0.0457},{"p":"e","s":"o","x":12,"y":0.0457},{"p":"e","s":"o","x":13,"y":0.046},{"p":"e","s":"o","x":14,"y":0.0465},{"p":"e","s":"o","x":15,"y":0.047},{"p":"e","s":"o","x":16,"y":0.0431},{"p":"e","s":"o","x":17,"y":0.0405},{"p":"e","s":"o","x":18,"y":0.0431},{"p":"e","s":"o","x":19,"y":0.0405},{"p":"e","s":"o","x":20,"y":0.038},{"p":"e","s":"o","x":22,"y":0.0397},{"p":"e","s":"o","x":24,"y":0.0392},{"p":"e","s":"o","x":25,"y":0.0405},{"p":"e","s":"o","x":26,"y":0.0375},{"p":"e","s":"o","x":28,"y":0.0363},{"p":"e","s":"o","x":30,"y":0.0371},{"p":"e","s":"o","x":32,"y":0.0354},{"p":"e","s":"o","x":34,"y":0.0371},{"p":"e","s":"o","x":36,"y":0.038},{"p":"e","s":"o","x":38,"y":0.038},{"p":"e","s":"o","x":39,"y":0.0422},{"p":"e","s":"o","x":40,"y":0.0397},{"p":"e","s":"o","x":42,"y":0.0405},{"p":"e","s":"o","x":44,"y":0.0397},{"p":"e","s":"o","x":46,"y":0.0405},{"p":"e","s":"o","x":48,"y":0.0402},{"p":"e","s":"o","x":50,"y":0.0419},{"p":"e","s":"o","x":52,"y":0.0409},{"p":"e","s":"o","x":54,"y":0.0392},{"p":"e","s":"o","x":56,"y":0.0405},{"p":"e","s":"o","x":58,"y":0.0426},{"p":"e","s":"o","x":60,"y":0.0431},{"p":"e","s":"o","x":61,"y":0.047},{"p":"e","s":"o","x":63,"y":0.0453},{"p":"e","s":"o","x":64,"y":0.0477},{"p":"e","s":"o","x":66,"y":0.0516},{"p":"e","s":"o","x":68,"y":0.0508},{"p":"e","s":"o","x":69,"y":0.0491},{"p":"e","s":"o","x":70,"y":0.0551},{"p":"e","s":"o","x":71,"y":0.0542},{"p":"e","s":"o","x":72,"y":0.0528},{"p":"e","s":"o","x":73,"y":0.0559},{"p":"e","s":"o","x":75,"y":0.0602},{"p":"e","s":"o","x":76,"y":0.0585},{"p":"e","s":"o","x":78,"y":0.0619},{"p":"e","s":"o","x":79,"y":0.0627},{"p":"e","s":"o","x":80,"y":0.0645},{"p":"e","s":"o","x":82,"y":0.067},{"p":"e","s":"o","x":84,"y":0.073},{"p":"e","s":"o","x":85,"y":0.0704},{"p":"e","s":"o","x":86,"y":0.0696},{"p":"e","s":"o","x":87,"y":0.0739},{"p":"e","s":"o","x":88,"y":0.0679},{"p":"e","s":"o","x":90,"y":0.0627},{"p":"e","s":"o","x":91,"y":0.0696},{"p":"e","s":"o","x":93,"y":0.0785},{"p":"e","s":"o","x":95,"y":0.0727},{"p":"e","s":"o","x":96,"y":0.0751},{"p":"e","s":"o","x":97,"y":0.0773},{"p":"e","s":"o","x":98,"y":0.0798},{"p":"e","s":"o","x":99,"y":0.0747},{"p":"e","s":"o","x":100,"y":0.0785},
{"p":"e","s":"u","x":0,"y":0.0713},{"p":"e","s":"u","x":1,"y":0.0679},{"p":"e","s":"u","x":2,"y":0.061},{"p":"e","s":"u","x":3,"y":0.0576},{"p":"e","s":"u","x":4,"y":0.0559},{"p":"e","s":"u","x":5,"y":0.0568},{"p":"e","s":"u","x":6,"y":0.058},{"p":"e","s":"u","x":7,"y":0.0559},{"p":"e","s":"u","x":8,"y":0.0551},{"p":"e","s":"u","x":10,"y":0.0556},{"p":"e","s":"u","x":12,"y":0.0542},{"p":"e","s":"u","x":14,"y":0.0551},{"p":"e","s":"u","x":16,"y":0.0542},{"p":"e","s":"u","x":18,"y":0.0516},{"p":"e","s":"u","x":20,"y":0.0534},{"p":"e","s":"u","x":22,"y":0.0551},{"p":"e","s":"u","x":24,"y":0.0534},{"p":"e","s":"u","x":26,"y":0.0525},{"p":"e","s":"u","x":28,"y":0.0542},{"p":"e","s":"u","x":30,"y":0.0516},{"p":"e","s":"u","x":32,"y":0.0539},{"p":"e","s":"u","x":34,"y":0.0528},{"p":"e","s":"u","x":36,"y":0.0542},{"p":"e","s":"u","x":38,"y":0.0525},{"p":"e","s":"u","x":40,"y":0.0534},{"p":"e","s":"u","x":42,"y":0.0551},{"p":"e","s":"u","x":44,"y":0.0534},{"p":"e","s":"u","x":46,"y":0.0551},{"p":"e","s":"u","x":48,"y":0.0525},{"p":"e","s":"u","x":50,"y":0.0542},{"p":"e","s":"u","x":52,"y":0.0534},{"p":"e","s":"u","x":54,"y":0.0551},{"p":"e","s":"u","x":56,"y":0.0545},{"p":"e","s":"u","x":58,"y":0.0534},{"p":"e","s":"u","x":60,"y":0.0525},{"p":"e","s":"u","x":62,"y":0.0528},{"p":"e","s":"u","x":64,"y":0.0525},{"p":"e","s":"u","x":66,"y":0.0539},{"p":"e","s":"u","x":68,"y":0.0545},{"p":"e","s":"u","x":70,"y":0.0539},{"p":"e","s":"u","x":72,"y":0.0534},{"p":"e","s":"u","x":74,"y":0.0528},{"p":"e","s":"u","x":76,"y":0.0534},{"p":"e","s":"u","x":78,"y":0.0545},{"p":"e","s":"u","x":80,"y":0.0542},{"p":"e","s":"u","x":82,"y":0.0542},{"p":"e","s":"u","x":84,"y":0.0545},{"p":"e","s":"u","x":86,"y":0.0542},{"p":"e","s":"u","x":88,"y":0.0551},{"p":"e","s":"u","x":89,"y":0.0568},{"p":"e","s":"u","x":90,"y":0.0593},{"p":"e","s":"u","x":92,"y":0.058},{"p":"e","s":"u","x":94,"y":0.0585},{"p":"e","s":"u","x":96,"y":0.0593},{"p":"e","s":"u","x":98,"y":0.061},{"p":"e","s":"u","x":99,"y":0.0607},{"p":"e","s":"u","x":100,"y":0.0636},
{"p":"e","s":"l","x":0,"y":0.0252},{"p":"e","s":"l","x":1,"y":0.0388},{"p":"e","s":"l","x":2,"y":0.0414},{"p":"e","s":"l","x":3,"y":0.0426},{"p":"e","s":"l","x":4,"y":0.0431},{"p":"e","s":"l","x":6,"y":0.0436},{"p":"e","s":"l","x":8,"y":0.044},{"p":"e","s":"l","x":10,"y":0.0436},{"p":"e","s":"l","x":12,"y":0.044},{"p":"e","s":"l","x":14,"y":0.044},{"p":"e","s":"l","x":16,"y":0.0443},{"p":"e","s":"l","x":18,"y":0.0448},{"p":"e","s":"l","x":20,"y":0.0457},{"p":"e","s":"l","x":22,"y":0.0453},{"p":"e","s":"l","x":24,"y":0.0448},{"p":"e","s":"l","x":26,"y":0.0457},{"p":"e","s":"l","x":28,"y":0.0453},{"p":"e","s":"l","x":30,"y":0.0443},{"p":"e","s":"l","x":32,"y":0.0448},{"p":"e","s":"l","x":34,"y":0.0457},{"p":"e","s":"l","x":36,"y":0.0443},{"p":"e","s":"l","x":38,"y":0.0448},{"p":"e","s":"l","x":40,"y":0.0457},{"p":"e","s":"l","x":42,"y":0.0453},{"p":"e","s":"l","x":44,"y":0.0462},{"p":"e","s":"l","x":46,"y":0.0457},{"p":"e","s":"l","x":48,"y":0.0462},{"p":"e","s":"l","x":50,"y":0.0457},{"p":"e","s":"l","x":52,"y":0.0462},{"p":"e","s":"l","x":54,"y":0.0457},{"p":"e","s":"l","x":56,"y":0.0457},{"p":"e","s":"l","x":58,"y":0.0465},{"p":"e","s":"l","x":60,"y":0.046},{"p":"e","s":"l","x":62,"y":0.0457},{"p":"e","s":"l","x":64,"y":0.0462},{"p":"e","s":"l","x":66,"y":0.046},{"p":"e","s":"l","x":68,"y":0.0457},{"p":"e","s":"l","x":70,"y":0.0457},{"p":"e","s":"l","x":72,"y":0.0448},{"p":"e","s":"l","x":74,"y":0.0457},{"p":"e","s":"l","x":76,"y":0.046},{"p":"e","s":"l","x":78,"y":0.0457},{"p":"e","s":"l","x":80,"y":0.0457},{"p":"e","s":"l","x":82,"y":0.0453},{"p":"e","s":"l","x":84,"y":0.0462},{"p":"e","s":"l","x":86,"y":0.0457},{"p":"e","s":"l","x":88,"y":0.0448},{"p":"e","s":"l","x":90,"y":0.0457},{"p":"e","s":"l","x":92,"y":0.0453},{"p":"e","s":"l","x":94,"y":0.044},{"p":"e","s":"l","x":96,"y":0.0443},{"p":"e","s":"l","x":98,"y":0.0431},{"p":"e","s":"l","x":100,"y":0.0392},
{"p":"f","s":"o","x":0,"y":0.0267},{"p":"f","s":"o","x":1,"y":0.0319},{"p":"f","s":"o","x":2,"y":0.0302},{"p":"f","s":"o","x":3,"y":0.0241},{"p":"f","s":"o","x":4,"y":0.0255},{"p":"f","s":"o","x":5,"y":0.0275},{"p":"f","s":"o","x":6,"y":0.0259},{"p":"f","s":"o","x":7,"y":0.0246},{"p":"f","s":"o","x":8,"y":0.0264},{"p":"f","s":"o","x":10,"y":0.0275},{"p":"f","s":"o","x":11,"y":0.029},{"p":"f","s":"o","x":12,"y":0.0247},{"p":"f","s":"o","x":13,"y":0.0263},{"p":"f","s":"o","x":14,"y":0.0282},{"p":"f","s":"o","x":15,"y":0.029},{"p":"f","s":"o","x":16,"y":0.0264},{"p":"f","s":"o","x":17,"y":0.0286},{"p":"f","s":"o","x":18,"y":0.0298},{"p":"f","s":"o","x":20,"y":0.0251},{"p":"f","s":"o","x":21,"y":0.0255},{"p":"f","s":"o","x":23,"y":0.029},{"p":"f","s":"o","x":24,"y":0.03},{"p":"f","s":"o","x":26,"y":0.0295},{"p":"f","s":"o","x":27,"y":0.0287},{"p":"f","s":"o","x":28,"y":0.0298},{"p":"f","s":"o","x":29,"y":0.0282},{"p":"f","s":"o","x":31,"y":0.0316},{"p":"f","s":"o","x":32,"y":0.0298},{"p":"f","s":"o","x":34,"y":0.0306},{"p":"f","s":"o","x":35,"y":0.0294},{"p":"f","s":"o","x":37,"y":0.0306},{"p":"f","s":"o","x":39,"y":0.0309},{"p":"f","s":"o","x":40,"y":0.0298},{"p":"f","s":"o","x":42,"y":0.0298},{"p":"f","s":"o","x":44,"y":0.0311},{"p":"f","s":"o","x":45,"y":0.0317},{"p":"f","s":"o","x":47,"y":0.0298},{"p":"f","s":"o","x":48,"y":0.029},{"p":"f","s":"o","x":49,"y":0.0309},{"p":"f","s":"o","x":51,"y":0.0263},{"p":"f","s":"o","x":52,"y":0.0282},{"p":"f","s":"o","x":53,"y":0.03},{"p":"f","s":"o","x":55,"y":0.0271},{"p":"f","s":"o","x":56,"y":0.0298},{"p":"f","s":"o","x":57,"y":0.029},{"p":"f","s":"o","x":58,"y":0.0309},{"p":"f","s":"o","x":60,"y":0.0306},{"p":"f","s":"o","x":62,"y":0.0282},{"p":"f","s":"o","x":64,"y":0.0302},{"p":"f","s":"o","x":66,"y":0.0302},{"p":"f","s":"o","x":68,"y":0.0298},{"p":"f","s":"o","x":70,"y":0.028},{"p":"f","s":"o","x":72,"y":0.0295},{"p":"f","s":"o","x":73,"y":0.0317},{"p":"f","s":"o","x":75,"y":0.0306},{"p":"f","s":"o","x":76,"y":0.0298},{"p":"f","s":"o","x":78,"y":0.0331},{"p":"f","s":"o","x":80,"y":0.0317},{"p":"f","s":"o","x":82,"y":0.0321},{"p":"f","s":"o","x":84,"y":0.0325},{"p":"f","s":"o","x":86,"y":0.0313},{"p":"f","s":"o","x":88,"y":0.0348},{"p":"f","s":"o","x":89,"y":0.0313},{"p":"f","s":"o","x":90,"y":0.0298},{"p":"f","s":"o","x":92,"y":0.034},{"p":"f","s":"o","x":93,"y":0.0352},{"p":"f","s":"o","x":94,"y":0.0379},{"p":"f","s":"o","x":95,"y":0.0348},{"p":"f","s":"o","x":96,"y":0.0306},{"p":"f","s":"o","x":97,"y":0.0348},{"p":"f","s":"o","x":98,"y":0.0317},{"p":"f","s":"o","x":99,"y":0.0325},{"p":"f","s":"o","x":100,"y":0.0383},
{"p":"f","s":"u","x":0,"y":0.053},{"p":"f","s":"u","x":1,"y":0.0472},{"p":"f","s":"u","x":2,"y":0.0379},{"p":"f","s":"u","x":3,"y":0.0364},{"p":"f","s":"u","x":4,"y":0.0371},{"p":"f","s":"u","x":5,"y":0.0364},{"p":"f","s":"u","x":6,"y":0.0347},{"p":"f","s":"u","x":8,"y":0.0357},{"p":"f","s":"u","x":10,"y":0.0347},{"p":"f","s":"u","x":12,"y":0.0333},{"p":"f","s":"u","x":14,"y":0.0344},{"p":"f","s":"u","x":16,"y":0.0337},{"p":"f","s":"u","x":18,"y":0.034},{"p":"f","s":"u","x":20,"y":0.0348},{"p":"f","s":"u","x":22,"y":0.0348},{"p":"f","s":"u","x":24,"y":0.0337},{"p":"f","s":"u","x":26,"y":0.0329},{"p":"f","s":"u","x":28,"y":0.0331},{"p":"f","s":"u","x":30,"y":0.0337},{"p":"f","s":"u","x":32,"y":0.0344},{"p":"f","s":"u","x":34,"y":0.0333},{"p":"f","s":"u","x":36,"y":0.0344},{"p":"f","s":"u","x":38,"y":0.0337},{"p":"f","s":"u","x":39,"y":0.0357},{"p":"f","s":"u","x":41,"y":0.0337},{"p":"f","s":"u","x":44,"y":0.0337},{"p":"f","s":"u","x":46,"y":0.0329},{"p":"f","s":"u","x":48,"y":0.034},{"p":"f","s":"u","x":50,"y":0.0337},{"p":"f","s":"u","x":52,"y":0.0344},{"p":"f","s":"u","x":54,"y":0.0333},{"p":"f","s":"u","x":56,"y":0.0333},{"p":"f","s":"u","x":58,"y":0.0334},{"p":"f","s":"u","x":60,"y":0.0337},{"p":"f","s":"u","x":62,"y":0.0329},{"p":"f","s":"u","x":64,"y":0.0333},{"p":"f","s":"u","x":66,"y":0.0333},{"p":"f","s":"u","x":68,"y":0.0337},{"p":"f","s":"u","x":70,"y":0.0329},{"p":"f","s":"u","x":72,"y":0.0325},{"p":"f","s":"u","x":74,"y":0.0321},{"p":"f","s":"u","x":76,"y":0.0325},{"p":"f","s":"u","x":78,"y":0.0337},{"p":"f","s":"u","x":80,"y":0.0337},{"p":"f","s":"u","x":82,"y":0.0348},{"p":"f","s":"u","x":83,"y":0.0357},{"p":"f","s":"u","x":85,"y":0.0348},{"p":"f","s":"u","x":87,"y":0.0337},{"p":"f","s":"u","x":89,"y":0.0348},{"p":"f","s":"u","x":91,"y":0.034},{"p":"f","s":"u","x":93,"y":0.0348},{"p":"f","s":"u","x":95,"y":0.0356},{"p":"f","s":"u","x":97,"y":0.0342},{"p":"f","s":"u","x":98,"y":0.0333},{"p":"f","s":"u","x":100,"y":0.0364},
{"p":"f","s":"l","x":0,"y":0.0108},{"p":"f","s":"l","x":0.5,"y":0.0201},{"p":"f","s":"l","x":1,"y":0.0228},{"p":"f","s":"l","x":2,"y":0.023},{"p":"f","s":"l","x":3,"y":0.0233},{"p":"f","s":"l","x":4,"y":0.0246},{"p":"f","s":"l","x":5,"y":0.0255},{"p":"f","s":"l","x":6,"y":0.0247},{"p":"f","s":"l","x":7,"y":0.0233},{"p":"f","s":"l","x":8,"y":0.0241},{"p":"f","s":"l","x":10,"y":0.0263},{"p":"f","s":"l","x":12,"y":0.0269},{"p":"f","s":"l","x":14,"y":0.0267},{"p":"f","s":"l","x":16,"y":0.0263},{"p":"f","s":"l","x":18,"y":0.0263},{"p":"f","s":"l","x":20,"y":0.0264},{"p":"f","s":"l","x":22,"y":0.0271},{"p":"f","s":"l","x":24,"y":0.0277},{"p":"f","s":"l","x":26,"y":0.0282},{"p":"f","s":"l","x":28,"y":0.0286},{"p":"f","s":"l","x":30,"y":0.0275},{"p":"f","s":"l","x":32,"y":0.0278},{"p":"f","s":"l","x":34,"y":0.0275},{"p":"f","s":"l","x":36,"y":0.028},{"p":"f","s":"l","x":38,"y":0.0285},{"p":"f","s":"l","x":40,"y":0.0286},{"p":"f","s":"l","x":42,"y":0.0282},{"p":"f","s":"l","x":44,"y":0.0278},{"p":"f","s":"l","x":46,"y":0.0271},{"p":"f","s":"l","x":48,"y":0.0278},{"p":"f","s":"l","x":50,"y":0.0275},{"p":"f","s":"l","x":52,"y":0.0261},{"p":"f","s":"l","x":54,"y":0.0271},{"p":"f","s":"l","x":56,"y":0.0275},{"p":"f","s":"l","x":58,"y":0.028},{"p":"f","s":"l","x":60,"y":0.0278},{"p":"f","s":"l","x":62,"y":0.0285},{"p":"f","s":"l","x":64,"y":0.0288},{"p":"f","s":"l","x":66,"y":0.0282},{"p":"f","s":"l","x":68,"y":0.0275},{"p":"f","s":"l","x":70,"y":0.0286},{"p":"f","s":"l","x":72,"y":0.0272},{"p":"f","s":"l","x":74,"y":0.0259},{"p":"f","s":"l","x":76,"y":0.0267},{"p":"f","s":"l","x":78,"y":0.0254},{"p":"f","s":"l","x":80,"y":0.0263},{"p":"f","s":"l","x":82,"y":0.0257},{"p":"f","s":"l","x":84,"y":0.0259},{"p":"f","s":"l","x":86,"y":0.0263},{"p":"f","s":"l","x":88,"y":0.0261},{"p":"f","s":"l","x":90,"y":0.0263},{"p":"f","s":"l","x":92,"y":0.0271},{"p":"f","s":"l","x":94,"y":0.0259},{"p":"f","s":"l","x":96,"y":0.024},{"p":"f","s":"l","x":98,"y":0.0236},{"p":"f","s":"l","x":100,"y":0.0209}
]},
"bounds":"flush",
"columns":3,
"spacing":{"row":88,"column":80},
"concat":[
{"width":335,"height":213,"data":{"name":"d"},"transform":[{"filter":"datum.p=='a'"}],
"title":{"text":"(a) Seedlings-Juveniles","anchor":"start","frame":"group","dx":24,"offset":0,"dy":50},
"encoding":{"x":{"field":"x","type":"quantitative","scale":{"domain":[0,100],"nice":false},"axis":{"title":null,"values":[0,10,20,30,40,50,60,70,80,90,100],"labelExpr":"datum.value % 20 == 0 ? datum.label : ''","tickSize":{"condition":{"test":"datum.value % 20 != 0","value":3},"value":5}}},
"y":{"field":"y","type":"quantitative","scale":{"domain":[0.05,0.16],"nice":false,"zero":false},"axis":{"title":"O₁₂( r)","titlePadding":20,"values":[0.06,0.08,0.1,0.12,0.14,0.16],"format":".2f","labelExpr":"round(datum.value*100) % 4 == 0 ? datum.label : ''","tickSize":{"condition":{"test":"round(datum.value*100) % 4 != 0","value":3},"value":5}}}},
"layer":[{"transform":[{"filter":"datum.s!='o'"}],"mark":{"type":"line","color":"#8c8c8c","strokeWidth":1.2,"interpolate":"monotone"},"encoding":{"detail":{"field":"s"}}},
{"transform":[{"filter":"datum.s=='o'"}],"mark":{"type":"line","color":"black","strokeWidth":1.8,"interpolate":"monotone"},"encoding":{}}]},
{"width":335,"height":213,"data":{"name":"d"},"transform":[{"filter":"datum.p=='b'"}],
"title":{"text":"(b) Seedlings-Mature","anchor":"start","frame":"group","dx":23,"offset":0,"dy":50},
"encoding":{"x":{"field":"x","type":"quantitative","scale":{"domain":[0,100],"nice":false},"axis":{"title":null,"values":[0,10,20,30,40,50,60,70,80,90,100],"labelExpr":"datum.value % 20 == 0 ? datum.label : ''","tickSize":{"condition":{"test":"datum.value % 20 != 0","value":3},"value":5}}},
"y":{"field":"y","type":"quantitative","scale":{"domain":[0.02,0.16],"nice":false,"zero":false},"axis":{"title":null,"values":[0.02,0.04,0.06,0.08,0.1,0.12,0.14,0.16],"format":".2f","labelExpr":"round(datum.value*100) % 4 == 0 ? datum.label : ''","tickSize":{"condition":{"test":"round(datum.value*100) % 4 != 0","value":3},"value":5}}}},
"layer":[{"transform":[{"filter":"datum.s!='o'"}],"mark":{"type":"line","color":"#8c8c8c","strokeWidth":1.2,"interpolate":"monotone"},"encoding":{"detail":{"field":"s"}}},
{"transform":[{"filter":"datum.s=='o'"}],"mark":{"type":"line","color":"black","strokeWidth":1.8,"interpolate":"monotone"},"encoding":{}}]},
{"width":335,"height":213,"data":{"name":"d"},"transform":[{"filter":"datum.p=='c'"}],
"title":{"text":"(c) Seedlings-Overmature","anchor":"start","frame":"group","dx":26,"offset":0,"dy":50},
"encoding":{"x":{"field":"x","type":"quantitative","scale":{"domain":[0,100],"nice":false},"axis":{"title":null,"values":[0,10,20,30,40,50,60,70,80,90,100],"labelExpr":"datum.value % 20 == 0 ? datum.label : ''","tickSize":{"condition":{"test":"datum.value % 20 != 0","value":3},"value":5}}},
"y":{"field":"y","type":"quantitative","scale":{"domain":[0.02,0.16],"nice":false,"zero":false},"axis":{"title":null,"values":[0.02,0.04,0.06,0.08,0.1,0.12,0.14,0.16],"format":".2f","labelExpr":"round(datum.value*100) % 4 == 0 ? datum.label : ''","tickSize":{"condition":{"test":"round(datum.value*100) % 4 != 0","value":3},"value":5}}}},
"layer":[{"transform":[{"filter":"datum.s!='o'"}],"mark":{"type":"line","color":"#8c8c8c","strokeWidth":1.2,"interpolate":"monotone"},"encoding":{"detail":{"field":"s"}}},
{"transform":[{"filter":"datum.s=='o'"}],"mark":{"type":"line","color":"black","strokeWidth":1.8,"interpolate":"monotone"},"encoding":{}}]},
{"width":335,"height":214,"data":{"name":"d"},"transform":[{"filter":"datum.p=='d'"}],
"title":{"text":"(d) Juveniles-Mature","anchor":"start","frame":"group","dx":24,"offset":0,"dy":53},
"encoding":{"x":{"field":"x","type":"quantitative","scale":{"domain":[0,100],"nice":false},"axis":{"title":"Scale (m)","titlePadding":14,"values":[0,10,20,30,40,50,60,70,80,90,100],"labelExpr":"datum.value % 20 == 0 ? datum.label : ''","tickSize":{"condition":{"test":"datum.value % 20 != 0","value":3},"value":5}}},
"y":{"field":"y","type":"quantitative","scale":{"domain":[0.02,0.12],"nice":false,"zero":false},"axis":{"title":"O₁₂( r)","titlePadding":20,"values":[0.03,0.045,0.06,0.075,0.09,0.105,0.12],"format":".2f","labelExpr":"round(datum.value*1000) % 30 == 0 ? datum.label : ''","tickSize":{"condition":{"test":"round(datum.value*1000) % 30 != 0","value":3},"value":5}}}},
"layer":[{"transform":[{"filter":"datum.s!='o'"}],"mark":{"type":"line","color":"#8c8c8c","strokeWidth":1.2,"interpolate":"monotone"},"encoding":{"detail":{"field":"s"}}},
{"transform":[{"filter":"datum.s=='o'"}],"mark":{"type":"line","color":"black","strokeWidth":1.8,"interpolate":"monotone"},"encoding":{}}]},
{"width":335,"height":214,"data":{"name":"d"},"transform":[{"filter":"datum.p=='e'"}],
"title":{"text":"(e) Juveniles-Overmature","anchor":"start","frame":"group","dx":18,"offset":0,"dy":53},
"encoding":{"x":{"field":"x","type":"quantitative","scale":{"domain":[0,100],"nice":false},"axis":{"title":"Scale (m)","titlePadding":14,"values":[0,10,20,30,40,50,60,70,80,90,100],"labelExpr":"datum.value % 20 == 0 ? datum.label : ''","tickSize":{"condition":{"test":"datum.value % 20 != 0","value":3},"value":5}}},
"y":{"field":"y","type":"quantitative","scale":{"domain":[0.01,0.12],"nice":false,"zero":false},"axis":{"title":null,"values":[0.02,0.04,0.06,0.08,0.1,0.12],"format":".2f","labelExpr":"round(datum.value*100) % 4 == 0 ? datum.label : ''","tickSize":{"condition":{"test":"round(datum.value*100) % 4 != 0","value":3},"value":5}}}},
"layer":[{"transform":[{"filter":"datum.s!='o'"}],"mark":{"type":"line","color":"#8c8c8c","strokeWidth":1.2,"interpolate":"monotone"},"encoding":{"detail":{"field":"s"}}},
{"transform":[{"filter":"datum.s=='o'"}],"mark":{"type":"line","color":"black","strokeWidth":1.8,"interpolate":"monotone"},"encoding":{}}]},
{"width":335,"height":214,"data":{"name":"d"},"transform":[{"filter":"datum.p=='f'"}],
"title":{"text":"(f) Mature-Overmature","anchor":"start","frame":"group","dx":29,"offset":0,"dy":53},
"encoding":{"x":{"field":"x","type":"quantitative","scale":{"domain":[0,100],"nice":false},"axis":{"title":"Scale (m)","titlePadding":14,"values":[0,10,20,30,40,50,60,70,80,90,100],"labelExpr":"datum.value % 20 == 0 ? datum.label : ''","tickSize":{"condition":{"test":"datum.value % 20 != 0","value":3},"value":5}}},
"y":{"field":"y","type":"quantitative","scale":{"domain":[0.01,0.06],"nice":false,"zero":false},"axis":{"title":null,"values":[0.01,0.02,0.03,0.04,0.05,0.06],"format":".2f","labelExpr":"round(datum.value*100) % 2 == 0 ? datum.label : ''","tickSize":{"condition":{"test":"round(datum.value*100) % 2 != 0","value":3},"value":5}}}},
"layer":[{"transform":[{"filter":"datum.s!='o'"}],"mark":{"type":"line","color":"#8c8c8c","strokeWidth":1.2,"interpolate":"monotone"},"encoding":{"detail":{"field":"s"}}},
{"transform":[{"filter":"datum.s=='o'"}],"mark":{"type":"line","color":"black","strokeWidth":1.8,"interpolate":"monotone"},"encoding":{}}]}
]
}
